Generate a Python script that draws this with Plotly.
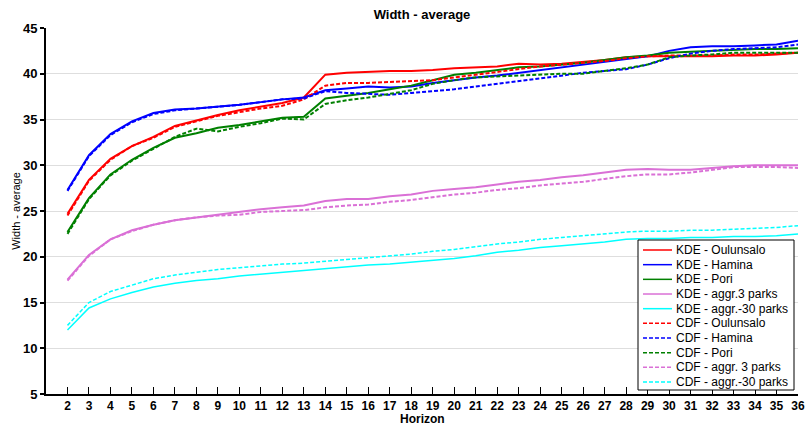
import plotly.graph_objects as go

horizon = list(range(2, 37))

kde_oulunsalo = [24.7, 28.4, 30.7, 32.1, 33.1, 34.3, 34.9, 35.5, 36.0, 36.4, 36.8, 37.4, 39.9, 40.1, 40.2,
                 40.3, 40.3, 40.4, 40.6, 40.7, 40.8, 41.1, 41.0, 41.1, 41.3, 41.5, 41.8, 41.9, 41.9, 41.9,
                 41.9, 42.0, 42.0, 42.1, 42.3]
kde_hamina = [27.3, 31.1, 33.4, 34.8, 35.7, 36.1, 36.2, 36.4, 36.6, 36.9, 37.2, 37.4, 38.2, 38.4, 38.6,
              38.5, 38.6, 39.0, 39.3, 39.6, 39.8, 40.1, 40.4, 40.7, 41.0, 41.3, 41.6, 41.9, 42.5, 42.9,
              43.0, 43.0, 43.1, 43.2, 43.6]
kde_pori = [22.7, 26.4, 29.0, 30.6, 31.9, 33.0, 33.5, 34.1, 34.4, 34.8, 35.2, 35.3, 37.3, 37.6, 37.9,
            38.3, 38.7, 39.3, 39.9, 40.1, 40.4, 40.7, 40.8, 41.0, 41.2, 41.5, 41.8, 42.0, 42.3, 42.4,
            42.5, 42.6, 42.7, 42.7, 42.8]
kde_aggr3 = [17.5, 20.2, 21.9, 22.9, 23.5, 24.0, 24.3, 24.6, 24.9, 25.2, 25.4, 25.6, 26.1, 26.3, 26.3,
             26.6, 26.8, 27.2, 27.4, 27.6, 27.9, 28.2, 28.4, 28.7, 28.9, 29.2, 29.5, 29.6, 29.5, 29.5,
             29.7, 29.9, 30.0, 30.0, 30.0]
kde_aggr30 = [12.0, 14.4, 15.4, 16.1, 16.7, 17.1, 17.4, 17.6, 17.9, 18.1, 18.3, 18.5, 18.7, 18.9, 19.1,
              19.2, 19.4, 19.6, 19.8, 20.1, 20.5, 20.7, 21.0, 21.2, 21.4, 21.6, 21.9, 22.0, 22.0, 22.1,
              22.1, 22.2, 22.2, 22.3, 22.5]
cdf_oulunsalo = [24.5, 28.3, 30.6, 32.1, 33.0, 34.2, 34.8, 35.4, 35.8, 36.2, 36.5, 37.2, 38.7, 39.0, 39.0,
                 39.1, 39.2, 39.3, 39.6, 39.9, 40.2, 40.5, 40.8, 41.0, 41.2, 41.4, 41.7, 41.9, 42.0, 42.0,
                 42.0, 42.1, 42.1, 42.2, 42.3]
cdf_hamina = [27.2, 31.0, 33.3, 34.7, 35.6, 36.0, 36.2, 36.4, 36.6, 36.9, 37.2, 37.3, 38.1, 37.9, 37.8,
              37.7, 37.9, 38.1, 38.3, 38.6, 38.9, 39.2, 39.5, 39.8, 40.1, 40.3, 40.5, 41.0, 41.7, 42.2,
              42.5, 42.7, 42.8, 42.9, 43.2]
cdf_pori = [22.5, 26.3, 28.9, 30.5, 31.8, 33.1, 34.0, 33.7, 34.2, 34.6, 35.1, 35.0, 36.7, 37.1, 37.4,
            37.8, 38.2, 38.9, 39.3, 39.6, 39.7, 39.8, 39.9, 40.0, 40.0, 40.3, 40.6, 41.0, 41.8, 42.0,
            42.1, 42.3, 42.3, 42.3, 42.3]
cdf_aggr3 = [17.4, 20.1, 21.9, 22.8, 23.5, 24.0, 24.3, 24.5, 24.6, 24.9, 25.0, 25.1, 25.4, 25.6, 25.7,
             26.0, 26.2, 26.5, 26.8, 27.0, 27.3, 27.5, 27.8, 28.0, 28.2, 28.5, 28.8, 29.0, 29.0, 29.2,
             29.5, 29.8, 29.8, 29.8, 29.7]
cdf_aggr30 = [12.5, 15.0, 16.2, 16.9, 17.6, 18.0, 18.3, 18.6, 18.8, 19.0, 19.2, 19.3, 19.5, 19.7, 19.9,
              20.1, 20.3, 20.6, 20.8, 21.1, 21.4, 21.6, 21.9, 22.1, 22.3, 22.5, 22.7, 22.8, 22.8, 22.9,
              22.9, 23.0, 23.1, 23.2, 23.4]

series_names = ["KDE - Oulunsalo", "KDE - Hamina", "KDE - Pori", "KDE - aggr.3 parks", "KDE - aggr.-30 parks",
                "CDF - Oulunsalo", "CDF - Hamina", "CDF - Pori", "CDF - aggr. 3 parks", "CDF - aggr.-30 parks"]
series_values = [kde_oulunsalo, kde_hamina, kde_pori, kde_aggr3, kde_aggr30,
                 cdf_oulunsalo, cdf_hamina, cdf_pori, cdf_aggr3, cdf_aggr30]
series_colors = ["#ff0000", "#0000ff", "#008000", "#da70d6", "#00ffff"] * 2
series_dash = ["solid"] * 5 + ["4px,2px"] * 5
series_width = [2, 2, 2, 2, 1.5] * 2

y_ticks = [5, 10, 15, 20, 25, 30, 35, 40, 45]

W, H = 807, 425
L, R, T, B = 46, 798, 28, 394

fig = go.Figure()
for name, vals, col, dash, w in zip(series_names, series_values, series_colors, series_dash, series_width):
    fig.add_trace(go.Scatter(x=horizon, y=vals, mode="lines", name=name,
                             line=dict(color=col, dash=dash, width=w), showlegend=False))

font_family = "Liberation Sans, Arial, sans-serif"

fig.update_layout(
    width=W, height=H,
    margin=dict(l=L, r=W - R, t=T, b=H - B, autoexpand=False),
    paper_bgcolor="white", plot_bgcolor="white",
    font=dict(family=font_family, color="black"),
    title=dict(text="<b>Width - average</b>", x=(L + R) / 2 / W, xanchor="center",
               y=1 - 14 / H, yanchor="middle", font=dict(size=13, family=font_family)),
    xaxis=dict(range=[1, 36], tickvals=horizon, ticktext=[f"<b>{h}</b>" for h in horizon],
               showgrid=False, zeroline=False, showline=True, linecolor="black", linewidth=1.5,
               ticks="inside", ticklen=7, tickcolor="black", tickwidth=1,
               tickfont=dict(size=12)),
    yaxis=dict(range=[5, 45], tickvals=y_ticks, ticktext=[f"<b>{v}</b>" for v in y_ticks],
               showgrid=True, gridcolor="#dedede", gridwidth=1, zeroline=False,
               showline=True, linecolor="black", linewidth=2,
               ticks="outside", ticklen=4, tickcolor="black", tickwidth=1.5,
               tickfont=dict(size=13), title=dict(text="Width - average", font=dict(size=11), standoff=0)),
)

def px_x(p):
    return (p - L) / (R - L)

def px_y(p):
    return (B - p) / (B - T)

# x-axis title placed just below tick labels
fig.add_annotation(xref="paper", yref="paper", x=0.5, y=px_y(411), xanchor="center", yanchor="top",
                   text="<b>Horizon</b>", showarrow=False, font=dict(size=12, family=font_family),
                   borderpad=0)

# Legend box (one-column, compact like the original)
box_l, box_r, box_t, box_b = 638, 794, 240, 390
fig.add_shape(type="rect", xref="paper", yref="paper",
              x0=px_x(box_l), x1=px_x(box_r), y0=px_y(box_b), y1=px_y(box_t),
              line=dict(color="black", width=1), fillcolor="white", layer="above")
for i, (name, col, dash) in enumerate(zip(series_names, series_colors, series_dash)):
    yc = 250 + i * 14.67
    fig.add_shape(type="line", xref="paper", yref="paper",
                  x0=px_x(643), x1=px_x(672), y0=px_y(yc), y1=px_y(yc),
                  line=dict(color=col, width=1.5, dash=dash), layer="above")
    fig.add_annotation(xref="paper", yref="paper", x=px_x(674), y=px_y(yc),
                       xanchor="left", yanchor="middle", text=name, showarrow=False,
                       font=dict(size=12, family=font_family, color="black"))

fig.write_html("out.html")
